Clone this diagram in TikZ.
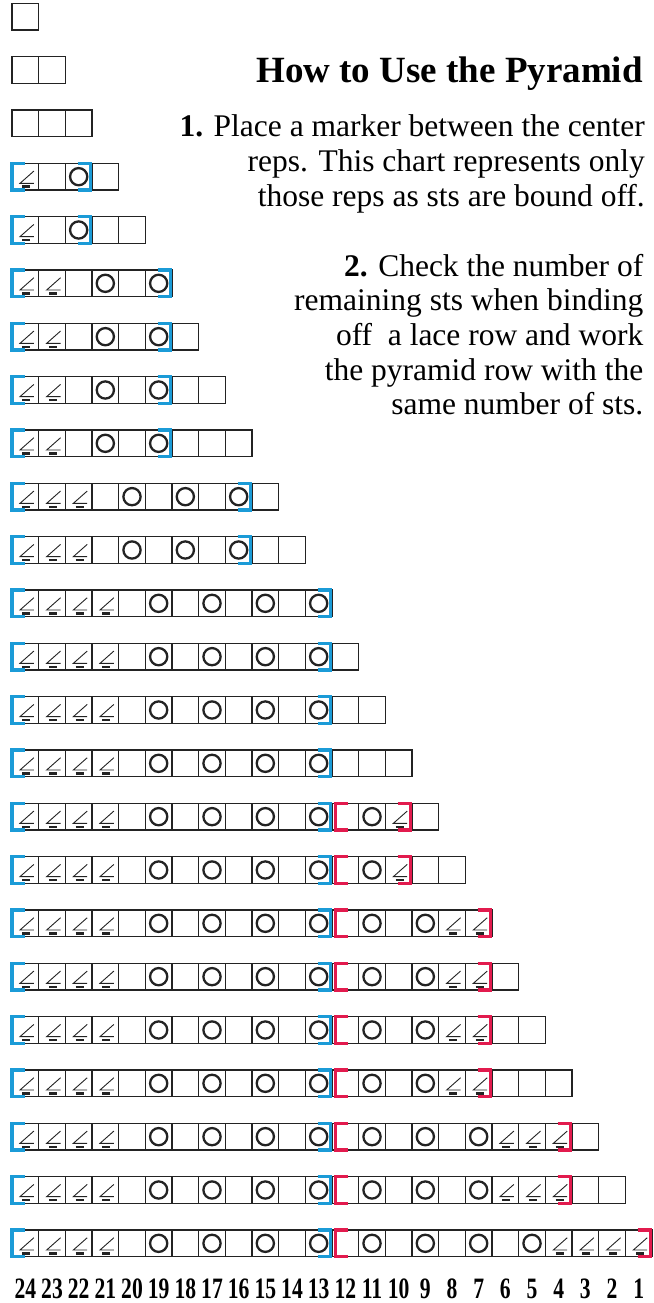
\documentclass[tikz,border=0pt]{standalone}
\usepackage{fontspec}
\setmainfont{Liberation Serif}
\usepackage{graphicx}
\definecolor{mblue}{RGB}{27,155,215}
\definecolor{mred}{RGB}{226,27,78}
\definecolor{gridc}{RGB}{35,35,35}
\tikzset{
  cellbox/.style={draw=gridc, line width=1.1pt},
  yosym/.style={draw=gridc, line width=2.3pt},
  decline/.style={draw=gridc, line width=0.9pt},
  decbar/.style={draw=gridc, line width=2.6pt},
  bluebr/.style={draw=mblue, line width=3.6pt, line cap=butt, line join=miter},
  redbr/.style={draw=mred, line width=3.6pt, line cap=butt, line join=miter},
  titletext/.style={anchor=base east, inner sep=0pt, font=\fontsize{37}{40}\selectfont\bfseries},
  bodytext/.style={anchor=base east, inner sep=0pt, font=\fontsize{31.5}{35}\selectfont},
  numlbl/.style={anchor=base, inner sep=0pt, font=\fontsize{29.6}{30}\selectfont\bfseries}
}
\newcommand{\decsym}[2]{% #1 = left x, #2 = top y of cell
  \draw[decline] (#1+0.82*26.667,#2+0.29*26.667) -- (#1+0.30*26.667,#2+0.75*26.667) -- (#1+0.82*26.667,#2+0.75*26.667);
  \draw[decbar] (#1+0.39*26.667,#2+0.88*26.667) -- (#1+0.69*26.667,#2+0.88*26.667);
}
\newcommand{\yosymb}[2]{%
  \draw[yosym] (#1+13.333,#2+13.333) circle (8.6);
}
\begin{document}
\begin{tikzpicture}[x=1pt,y=-1pt]
\useasboundingbox (0,0) rectangle (653,1303);
\foreach \n/\kl/\kr in {1/0/0,2/0/0,3/0/0,4/1/0,5/1/0,6/2/0,7/2/0,8/2/0,9/2/0,10/3/0,11/3/0,12/4/0,13/4/0,14/4/0,15/4/0,16/4/1,17/4/1,18/4/2,19/4/2,20/4/2,21/4/2,22/4/3,23/4/3,24/4/4}{
  \pgfmathsetmacro{\top}{3.333+(\n-1)*53.333}
  \pgfmathsetmacro{\bot}{\top+26.667}
  % cells
  \foreach \c in {1,...,\n}{
    \pgfmathsetmacro{\xl}{12+(\c-1)*26.667}
    \draw[cellbox] (\xl,\top) rectangle (\xl+26.667,\bot);
  }
  % left section
  \ifnum\kl>0
    \foreach \c in {1,...,\kl}{
      \pgfmathsetmacro{\xl}{12+(\c-1)*26.667}
      \decsym{\xl}{\top}
    }
    \foreach \j in {1,...,\kl}{
      \pgfmathsetmacro{\xl}{12+(\kl+2*\j-1)*26.667}
      \yosymb{\xl}{\top}
    }
  \fi
  % right section
  \ifnum\kr>0
    \foreach \j in {1,...,\kr}{
      \pgfmathsetmacro{\xl}{12+(12+2*\j-1)*26.667}
      \yosymb{\xl}{\top}
    }
    \foreach \j in {1,...,\kr}{
      \pgfmathsetmacro{\xl}{12+(12+2*\kr+\j-1)*26.667}
      \decsym{\xl}{\top}
    }
  \fi
  % brackets
  \ifnum\kl>0
    \pgfmathsetmacro{\xr}{12+3*\kl*26.667-1.5}
    \draw[bluebr] (12+12.7,\top) -- (12,\top) -- (12,\bot) -- (12+12.7,\bot);
    \draw[bluebr] (\xr-13,\top) -- (\xr,\top) -- (\xr,\bot) -- (\xr-13,\bot);
  \fi
  \ifnum\kr>0
    \pgfmathsetmacro{\xa}{12+12*26.667+3.3}
    \pgfmathsetmacro{\xb}{12+(12+3*\kr)*26.667-1.5}
    \draw[redbr] (\xa+13,\top) -- (\xa,\top) -- (\xa,\bot) -- (\xa+13,\bot);
    \draw[redbr] (\xb-13,\top) -- (\xb,\top) -- (\xb,\bot) -- (\xb-13,\bot);
  \fi
}
% column numbers
\foreach \c in {1,...,24}{
  \pgfmathtruncatemacro{\lab}{25-\c}
  \node[numlbl] (num\lab) at (12+\c*26.667-13.333,1298) {\scalebox{0.73}[1]{\lab}};
}
% texts
\node[titletext] (title) at (643,83) {How to Use the Pyramid};
\node[bodytext] (pa1) at (645,136.7) {\textbf{1.} Place a marker between the center};
\node[bodytext] (pa2) at (645,171.7) {reps. This chart represents only};
\node[bodytext] (pa3) at (645,206.7) {those reps as sts are bound off.};
\node[bodytext] (pb1) at (643.5,276) {\textbf{2.} Check the number of};
\node[bodytext] (pb2) at (643.5,310.7) {remaining sts when binding};
\node[bodytext] (pb3) at (643.5,345.4) {off~ a lace row and work};
\node[bodytext] (pb4) at (643.5,380) {the pyramid row with the};
\node[bodytext] (pb5) at (643.5,414.7) {same number of sts.};
\end{tikzpicture}
\end{document}
